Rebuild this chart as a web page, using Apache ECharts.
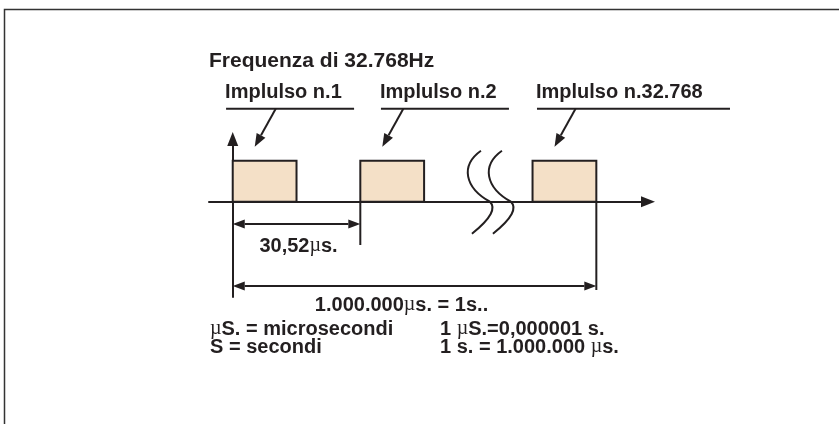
<!DOCTYPE html>
<html>
<head>
<meta charset="utf-8">
<script src="https://cdn.jsdelivr.net/npm/echarts@6/dist/echarts.min.js"></script>
<style>
html, body { margin: 0; padding: 0; background: #fff; }
#chart { width: 839px; height: 424px; }
</style>
</head>
<body>
<div id="chart"></div>
<script>
// dati del diagramma (asse x in periodi, asse y in livello logico)
const TITLE = 'Frequenza di 32.768Hz';
const PULSE_LABELS = ['Implulso n.1', 'Implulso n.2', 'Implulso n.32.768'];
const PULSE_STARTS = [0, 1, 2.35];
const PULSE_WIDTH = 0.5;
const PULSE_HIGH = 1;
const BREAK_AT = [2.016];
const SPAN_FROM = [0, 0];
const SPAN_TO = [1, 2.85];
const SPAN_LABELS = ['30,52{mu|µ}s.', '1.000.000{mu|µ}s. = 1s..'];
const NOTES_LEFT = ['{mu|µ}S. = microsecondi', 'S = secondi'];
const NOTES_RIGHT = ['1 {mu|µ}S.=0,000001 s.', '1 s. = 1.000.000 {mu|µ}s.'];

// impaginazione
const INK = '#231f20';
const PULSE_FILL = '#f4e0c7';
const FONT = '"Liberation Sans", Arial, sans-serif';
const FONT_SIZE = 20;
const LABEL_LEFT = [-0.06, 1.154, 2.377];
const LABEL_RULE = [128, 128, 193];
const SPAN_Y = [-0.544, -2.056];
const SPAN_EXT = [-1.056, -2.154];
const SPAN_TEXT_DX = [2, -13];
const SPAN_TEXT_DY = [22, 19];

const RICH = {
    mu: { fontFamily: '"Liberation Serif", serif', fontWeight: 'normal', fontSize: FONT_SIZE, color: INK }
};

const chart = echarts.init(document.getElementById('chart'), null, { renderer: 'canvas' });

function head(tip, from, len, half) {
    const dx = tip[0] - from[0];
    const dy = tip[1] - from[1];
    const d = Math.hypot(dx, dy);
    const ux = dx / d, uy = dy / d;
    const bx = tip[0] - ux * len, by = tip[1] - uy * len;
    return {
        base: [bx, by],
        el: {
            type: 'polygon',
            shape: { points: [tip, [bx - uy * half, by + ux * half], [bx + uy * half, by - ux * half]] },
            style: { fill: INK }
        }
    };
}

function line(p, q) {
    return { type: 'line', shape: { x1: p[0], y1: p[1], x2: q[0], y2: q[1] }, style: { stroke: INK, lineWidth: 2 } };
}

function text(str, x, y, align) {
    return {
        type: 'text',
        style: {
            text: str, x: x, y: y, align: align || 'left', verticalAlign: 'middle',
            fontFamily: FONT, fontWeight: 'bold', fontSize: FONT_SIZE, fill: INK, rich: RICH
        }
    };
}

function renderPulse(params, api) {
    const a = api.coord([api.value(0), api.value(2)]);
    const b = api.coord([api.value(1), 0]);
    return {
        type: 'rect',
        shape: { x: a[0], y: a[1], width: b[0] - a[0], height: b[1] - a[1] },
        style: { fill: PULSE_FILL, stroke: INK, lineWidth: 2 }
    };
}

function renderLabel(params, api) {
    const i = api.value(2);
    const top = api.coord([api.value(0), api.value(1)]);
    const left = api.coord([LABEL_LEFT[i], api.value(1)])[0];
    const ruleY = top[1] - 52;
    const tail = [top[0] + 43, ruleY];
    const tip = [top[0] + 22, top[1] - 14];
    const h = head(tip, tail, 13, 5);
    return {
        type: 'group',
        children: [
            text(PULSE_LABELS[i], left, ruleY - 16),
            line([left + 1, ruleY], [left + 1 + LABEL_RULE[i], ruleY]),
            line(tail, h.base),
            h.el
        ]
    };
}

function renderSpan(params, api) {
    const i = api.value(2);
    const a = api.coord([api.value(0), SPAN_Y[i]]);
    const b = api.coord([api.value(1), SPAN_Y[i]]);
    const extTop = api.coord([api.value(1), 0]);
    const extBot = api.coord([api.value(1), SPAN_EXT[i]]);
    const ha = head(a, b, 12, 4.5);
    const hb = head(b, a, 12, 4.5);
    return {
        type: 'group',
        children: [
            line(extTop, extBot),
            line(ha.base, hb.base),
            ha.el,
            hb.el,
            text(SPAN_LABELS[i], (a[0] + b[0]) / 2 + SPAN_TEXT_DX[i], a[1] + SPAN_TEXT_DY[i], 'center')
        ]
    };
}

function renderBreak(params, api) {
    const c = api.coord([api.value(0), api.value(1)]);
    const children = [];
    [0, 21].forEach(off => {
        const x = c[0] + off, y = c[1];
        children.push({
            type: 'bezierCurve',
            shape: { x1: x - 9, y1: y - 51, cpx1: x - 30, cpy1: y - 36, cpx2: x - 25, cpy2: y - 14, x2: x, y2: y },
            style: { stroke: INK, lineWidth: 2, fill: null }
        });
        children.push({
            type: 'bezierCurve',
            shape: { x1: x, y1: y, cpx1: x + 6, cpy1: y + 6, cpx2: x + 2, cpy2: y + 16, x2: x - 18, y2: y + 32 },
            style: { stroke: INK, lineWidth: 2, fill: null }
        });
    });
    return { type: 'group', children: children };
}

const axisLine = {
    show: true,
    onZero: true,
    symbol: ['none', 'triangle'],
    symbolSize: [11, 14],
    lineStyle: { color: INK, width: 2 }
};

const notes = [];
NOTES_LEFT.forEach((t, i) => {
    notes.push({
        type: 'text', left: 210, top: 319 + i * 18,
        style: { text: t, fontFamily: FONT, fontWeight: 'bold', fontSize: FONT_SIZE, fill: INK, rich: RICH }
    });
});
NOTES_RIGHT.forEach((t, i) => {
    notes.push({
        type: 'text', left: 440, top: 319 + i * 18,
        style: { text: t, fontFamily: FONT, fontWeight: 'bold', fontSize: FONT_SIZE, fill: INK, rich: RICH }
    });
});

const option = {
    backgroundColor: '#fff',
    animation: false,
    title: {
        text: TITLE,
        left: 209,
        top: 51,
        padding: 0,
        textStyle: { fontFamily: FONT, fontWeight: 'bold', fontSize: 21, color: INK }
    },
    grid: { left: 209, right: 191, top: 139, bottom: 127 },
    xAxis: {
        type: 'value',
        min: -0.186,
        max: 3.255,
        axisLine: axisLine,
        axisTick: { show: false },
        axisLabel: { show: false },
        splitLine: { show: false }
    },
    yAxis: {
        type: 'value',
        min: -2.324,
        max: 1.53,
        axisLine: axisLine,
        axisTick: { show: false },
        axisLabel: { show: false },
        splitLine: { show: false }
    },
    graphic: [
        {
            type: 'rect',
            shape: { x: 4.5, y: 9.5, width: 900, height: 500 },
            style: { fill: 'none', stroke: '#333', lineWidth: 1.5 },
            silent: true
        }
    ].concat(notes),
    series: [
        {
            type: 'custom',
            name: 'impulsi',
            renderItem: renderPulse,
            data: PULSE_STARTS.map(s => [s, s + PULSE_WIDTH, PULSE_HIGH]),
            z: 3
        },
        {
            type: 'custom',
            name: 'etichette',
            renderItem: renderLabel,
            data: PULSE_STARTS.map((s, i) => [s, PULSE_HIGH, i]),
            z: 4
        },
        {
            type: 'custom',
            name: 'quote',
            renderItem: renderSpan,
            data: SPAN_FROM.map((f, i) => [f, SPAN_TO[i], i]),
            z: 4
        },
        {
            type: 'custom',
            name: 'interruzione',
            renderItem: renderBreak,
            data: BREAK_AT.map(b => [b, 0]),
            z: 4
        }
    ]
};

chart.setOption(option);
</script>
</body>
</html>
